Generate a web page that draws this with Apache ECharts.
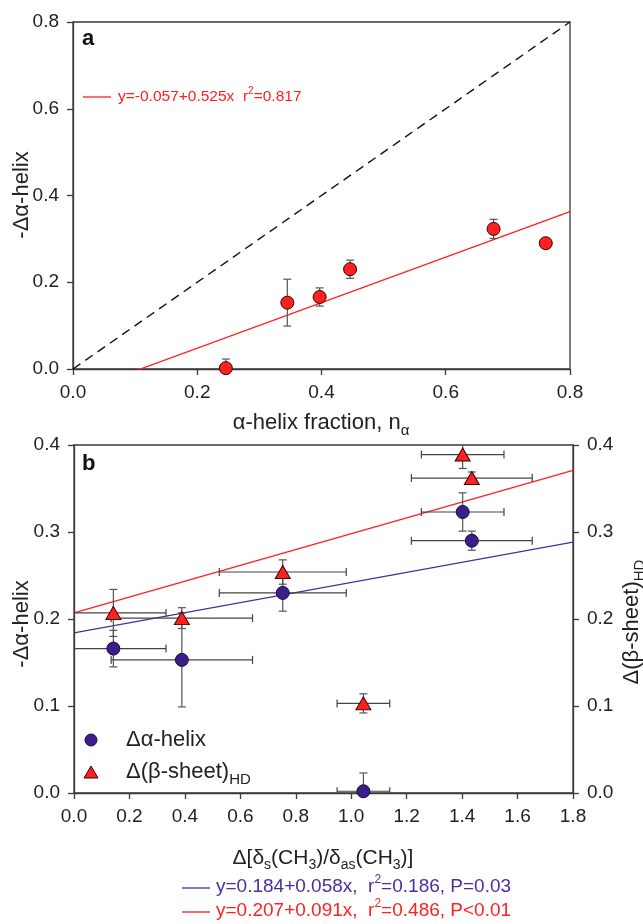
<!DOCTYPE html>
<html>
<head>
<meta charset="utf-8">
<script src="https://cdn.jsdelivr.net/npm/echarts@6/dist/echarts.min.js"></script>
<style>
  html, body { margin: 0; padding: 0; background: #fff; }
  #chart { width: 643px; height: 924px; }
</style>
</head>
<body>
<div id="chart"></div>
<script>
// ---- Panel a: α-helix fraction vs. loss of α-helix ----
const helixFraction = [0.246, 0.345, 0.397, 0.446, 0.677, 0.761];
const helixLossA    = [0.002, 0.153, 0.166, 0.230, 0.323, 0.290];
const helixLossAErr = [0.021, 0.054, 0.021, 0.021, 0.022, 0.011];
const fitA = { intercept: -0.057, slope: 0.525 };
const identityLine = [0, 0.8];

// ---- Panel b: Δ[δs(CH3)/δas(CH3)] vs. Δα-helix and Δ(β-sheet)HD ----
const deltaRatio    = [0.142, 0.389, 0.753, 1.402, 1.435, 1.044];
const deltaRatioErr = [0.190, 0.255, 0.229, 0.149, 0.218, 0.095];
const helixLossB    = [0.166, 0.153, 0.230, 0.323, 0.290, 0.002];
const helixLossBErr = [0.021, 0.054, 0.021, 0.022, 0.011, 0.021];
const sheetHD       = [0.207, 0.201, 0.254, 0.389, 0.362, 0.103];
const sheetHDErr    = [0.027, 0.012, 0.014, 0.016, 0.007, 0.011];
const fitHelixB = { intercept: 0.184, slope: 0.058 };
const fitSheetB = { intercept: 0.207, slope: 0.091 };

const xRangeA = [0, 0.8];
const xRangeB = [0, 1.8];

const RED = '#ff2020';
const PURPLE = '#3b1e8a';
const PURPLE_LINE = '#4a2ea0';
const AXIS = '#3a3a3a';
const TEXT = '#222';
const FONT = '"Liberation Sans", Arial, sans-serif';

const chart = echarts.init(document.getElementById('chart'), null, { renderer: 'canvas' });

function fitPoints(fit, range) {
  return range.map(x => [x, fit.intercept + fit.slope * x]);
}

// error bars: item = [x, y, xErr, yErr]
function errorBars(xs, ys, xErr, yErr) {
  return xs.map((x, i) => [x, ys[i], xErr ? xErr[i] : 0, yErr ? yErr[i] : 0]);
}

function errorRender(params, api) {
  const x = api.value(0), y = api.value(1), ex = api.value(2), ey = api.value(3);
  const children = [];
  const cap = 4;
  const st = { stroke: '#444', lineWidth: 1.2 };
  if (ex > 0) {
    const l = api.coord([x - ex, y]), r = api.coord([x + ex, y]);
    children.push({ type: 'line', shape: { x1: l[0], y1: l[1], x2: r[0], y2: r[1] }, style: st });
    children.push({ type: 'line', shape: { x1: l[0], y1: l[1] - cap, x2: l[0], y2: l[1] + cap }, style: st });
    children.push({ type: 'line', shape: { x1: r[0], y1: r[1] - cap, x2: r[0], y2: r[1] + cap }, style: st });
  }
  if (ey > 0) {
    const t = api.coord([x, y + ey]), b = api.coord([x, y - ey]);
    const vs = { stroke: '#555', lineWidth: 1.2 };
    children.push({ type: 'line', shape: { x1: t[0], y1: t[1], x2: b[0], y2: b[1] }, style: vs });
    children.push({ type: 'line', shape: { x1: t[0] - cap, y1: t[1], x2: t[0] + cap, y2: t[1] }, style: vs });
    children.push({ type: 'line', shape: { x1: b[0] - cap, y1: b[1], x2: b[0] + cap, y2: b[1] }, style: vs });
  }
  return { type: 'group', children };
}

const axisCommon = {
  axisLine: { show: true, onZero: false, lineStyle: { color: AXIS, width: 1.3 } },
  axisTick: { show: true, inside: false, length: 6, lineStyle: { color: AXIS, width: 1.3 } },
  splitLine: { show: false },
  axisLabel: { color: TEXT, fontSize: 19, fontFamily: FONT, margin: 14,
               formatter: v => v.toFixed(1) }
};

function richText(fill, size) {
  return {
    n: { fontSize: size, fontFamily: FONT, fill: fill, lineHeight: Math.round(size * 1.35) },
    s: { fontSize: Math.round(size * 0.68), fontFamily: FONT, fill: fill, verticalAlign: 'bottom', lineHeight: Math.round(size * 0.68) },
    p: { fontSize: Math.round(size * 0.65), fontFamily: FONT, fill: fill, verticalAlign: 'top', lineHeight: Math.round(size * 0.65) }
  };
}

const option = {
  animation: false,
  backgroundColor: '#fff',
  grid: [
    { left: 73, top: 22, width: 497, height: 347, show: true, borderColor: AXIS, borderWidth: 1.3, backgroundColor: 'transparent' },
    { left: 74, top: 445, width: 499, height: 348, show: true, borderColor: AXIS, borderWidth: 1.3, backgroundColor: 'transparent' }
  ],
  xAxis: [
    Object.assign({ gridIndex: 0, type: 'value', min: xRangeA[0], max: xRangeA[1], interval: 0.2 }, axisCommon),
    Object.assign({ gridIndex: 1, type: 'value', min: xRangeB[0], max: xRangeB[1], interval: 0.2 }, axisCommon)
  ],
  yAxis: [
    Object.assign({ gridIndex: 0, type: 'value', min: 0, max: 0.8, interval: 0.2 }, axisCommon),
    Object.assign({ gridIndex: 1, type: 'value', min: 0, max: 0.4, interval: 0.1 }, axisCommon),
    Object.assign({ gridIndex: 1, type: 'value', min: 0, max: 0.4, interval: 0.1, position: 'right' }, axisCommon)
  ],
  series: [
    // panel a
    { type: 'line', xAxisIndex: 0, yAxisIndex: 0, data: identityLine.map(v => [v, v]), symbol: 'none',
      lineStyle: { color: '#111', width: 1.4, type: [9, 6] }, z: 2 },
    { type: 'line', xAxisIndex: 0, yAxisIndex: 0, data: fitPoints(fitA, xRangeA), symbol: 'none', clip: true,
      lineStyle: { color: RED, width: 1.3 }, z: 2 },
    { type: 'custom', xAxisIndex: 0, yAxisIndex: 0, renderItem: errorRender, clip: true,
      data: errorBars(helixFraction, helixLossA, null, helixLossAErr), z: 3 },
    { type: 'scatter', xAxisIndex: 0, yAxisIndex: 0, data: helixFraction.map((x, i) => [x, helixLossA[i]]),
      symbol: 'circle', symbolSize: 13, itemStyle: { color: RED, borderColor: '#3a0000', borderWidth: 1, opacity: 1 }, z: 4 },
    // panel b
    { type: 'line', xAxisIndex: 1, yAxisIndex: 1, data: fitPoints(fitHelixB, xRangeB), symbol: 'none',
      lineStyle: { color: PURPLE_LINE, width: 1.3 }, z: 2 },
    { type: 'line', xAxisIndex: 1, yAxisIndex: 2, data: fitPoints(fitSheetB, xRangeB), symbol: 'none',
      lineStyle: { color: RED, width: 1.3 }, z: 2 },
    { type: 'custom', xAxisIndex: 1, yAxisIndex: 1, renderItem: errorRender, clip: true,
      data: errorBars(deltaRatio, helixLossB, deltaRatioErr, helixLossBErr), z: 3 },
    { type: 'custom', xAxisIndex: 1, yAxisIndex: 2, renderItem: errorRender, clip: true,
      data: errorBars(deltaRatio, sheetHD, deltaRatioErr, sheetHDErr), z: 3 },
    { type: 'scatter', xAxisIndex: 1, yAxisIndex: 1, data: deltaRatio.map((x, i) => [x, helixLossB[i]]),
      symbol: 'circle', symbolSize: 13, itemStyle: { color: PURPLE, borderColor: '#1a0a40', borderWidth: 1, opacity: 1 }, z: 4 },
    { type: 'scatter', xAxisIndex: 1, yAxisIndex: 2, data: deltaRatio.map((x, i) => [x, sheetHD[i]]),
      symbol: 'triangle', symbolSize: [15, 13], itemStyle: { color: RED, borderColor: '#3a0000', borderWidth: 1, opacity: 1 }, z: 4 }
  ],
  graphic: [
    // panel labels
    { type: 'text', x: 82, y: 39, style: { text: 'a', font: 'bold 22px ' + FONT, fill: '#111', verticalAlign: 'middle' } },
    { type: 'text', x: 82, y: 464, style: { text: 'b', font: 'bold 22px ' + FONT, fill: '#111', verticalAlign: 'middle' } },
    // panel a fit legend
    { type: 'line', shape: { x1: 83, y1: 97, x2: 111, y2: 97 }, style: { stroke: RED, lineWidth: 1.3 } },
    { type: 'text', x: 118, y: 97, style: {
        text: '{n|y=-0.057+0.525x  r}{p|2}{n|=0.817}', rich: richText(RED, 15.5), verticalAlign: 'middle' } },
    // axis titles, panel a
    { type: 'text', x: 22, y: 195, rotation: Math.PI / 2, style: {
        text: '-Δα-helix', font: '22px ' + FONT, fill: TEXT, align: 'center', verticalAlign: 'middle' } },
    { type: 'text', x: 321, y: 423, style: {
        text: '{n|α-helix fraction, n}{s|α}', rich: richText(TEXT, 22), align: 'center', verticalAlign: 'middle' } },
    // axis titles, panel b
    { type: 'text', x: 22, y: 624, rotation: Math.PI / 2, style: {
        text: '-Δα-helix', font: '22px ' + FONT, fill: TEXT, align: 'center', verticalAlign: 'middle' } },
    { type: 'text', x: 632, y: 622, rotation: Math.PI / 2, style: {
        text: '{n|Δ(β-sheet)}{s|HD}', rich: richText(TEXT, 22), align: 'center', verticalAlign: 'middle' } },
    { type: 'text', x: 323, y: 858, style: {
        text: '{n|Δ[δ}{s|s}{n|(CH}{s|3}{n|)/δ}{s|as}{n|(CH}{s|3}{n|)]}', rich: richText(TEXT, 21), align: 'center', verticalAlign: 'middle' } },
    // panel b legend
    { type: 'circle', shape: { cx: 91, cy: 740, r: 6 }, style: { fill: PURPLE, stroke: '#1a0a40', lineWidth: 1 } },
    { type: 'polygon', shape: { points: [[91, 766], [98, 778], [84, 778]] }, style: { fill: RED, stroke: '#3a0000', lineWidth: 1 } },
    { type: 'text', x: 126, y: 740, style: { text: 'Δα-helix', font: '22px ' + FONT, fill: TEXT, verticalAlign: 'middle' } },
    { type: 'text', x: 126, y: 772, style: {
        text: '{n|Δ(β-sheet)}{s|HD}', rich: richText(TEXT, 22), verticalAlign: 'middle' } },
    // panel b fit equations
    { type: 'line', shape: { x1: 182, y1: 888, x2: 210, y2: 888 }, style: { stroke: PURPLE_LINE, lineWidth: 1.3 } },
    { type: 'text', x: 216, y: 887, style: {
        text: '{n|y=0.184+0.058x,  r}{p|2}{n|=0.186, P=0.03}', rich: richText(PURPLE_LINE, 19), verticalAlign: 'middle' } },
    { type: 'line', shape: { x1: 182, y1: 912, x2: 210, y2: 912 }, style: { stroke: RED, lineWidth: 1.3 } },
    { type: 'text', x: 216, y: 911, style: {
        text: '{n|y=0.207+0.091x,  r}{p|2}{n|=0.486, P<0.01}', rich: richText(RED, 19), verticalAlign: 'middle' } }
  ]
};

chart.setOption(option);
</script>
</body>
</html>
